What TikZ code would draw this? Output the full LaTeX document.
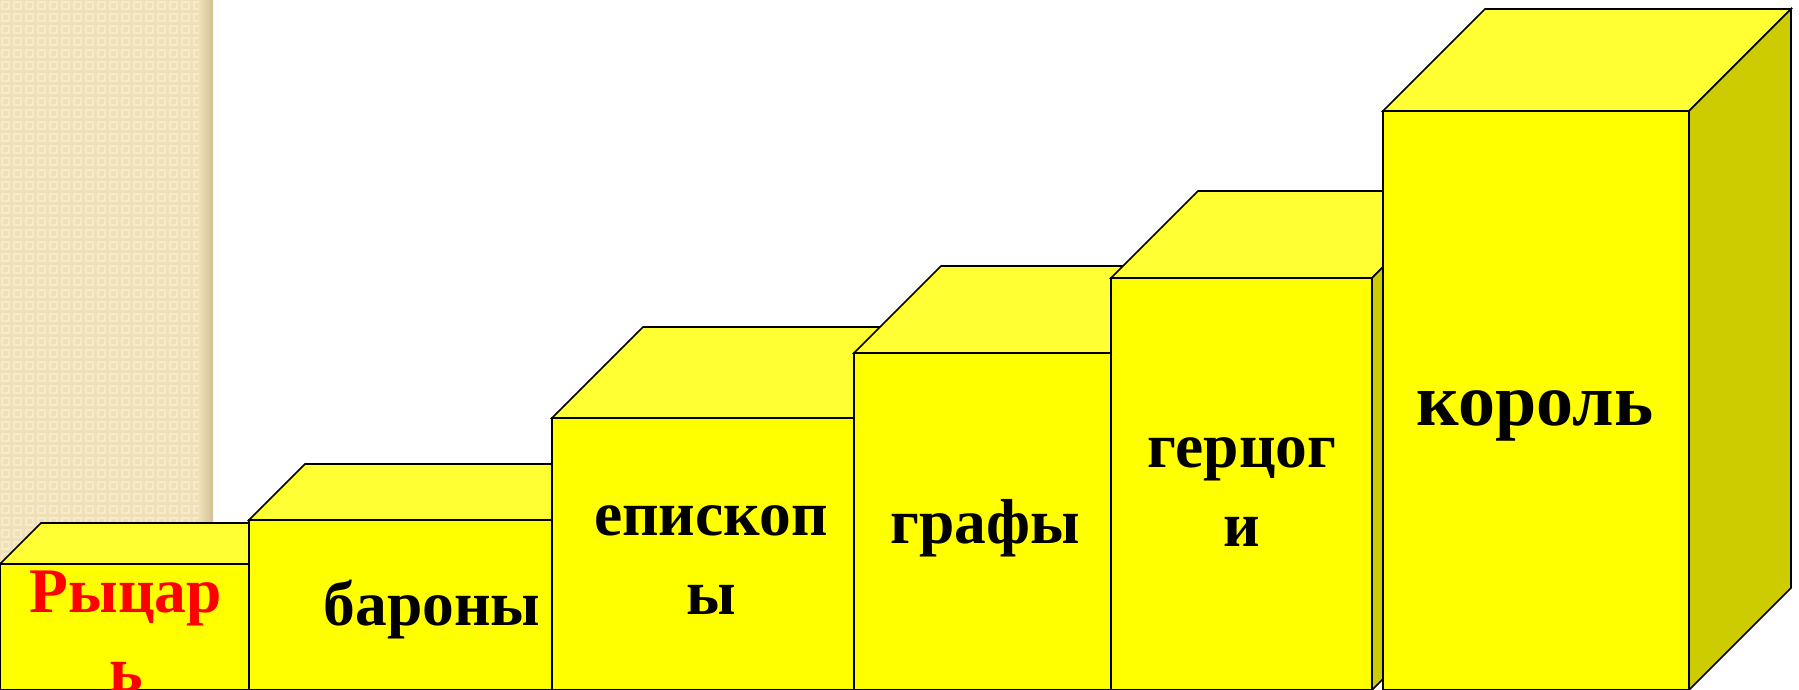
\documentclass[tikz,border=0pt]{standalone}
\usepackage{fontspec}
\setmainfont{Liberation Serif}
\usepackage{tikz}
\usetikzlibrary{positioning,calc}
\definecolor{cFront}{HTML}{FFFF00}
\definecolor{cTop}{HTML}{FFFF33}
\definecolor{cSide}{HTML}{CCCC00}
\definecolor{cPaper}{HTML}{EFE0B7}
\definecolor{cPaperL}{HTML}{F6EACA}
\definecolor{cPaperD}{HTML}{D2C195}
\definecolor{cKnight}{HTML}{FF0000}
\tikzset{
  face/.style={draw=black,line width=1.6pt,line join=miter},
  frontface/.style={face,fill=cFront},
  topface/.style={face,fill=cTop},
  sideface/.style={face,fill=cSide},
  rank/.style={font=\fontsize{63.5}{79}\selectfont\bfseries,align=center,anchor=base,inner sep=0pt},
}
\begin{document}
\begin{tikzpicture}[x=1pt,y=-1pt]
  \useasboundingbox (0,0) rectangle (1799,690);
  % textured strip at the left
  \fill[cPaper] (0,0) rectangle (213,690);
  \foreach \i in {0,...,16}
    \foreach \j in {0,...,57}
      \draw[cPaperL,line width=1.5pt] (\i*12+2,\j*12+2) rectangle ++(7,7);
  \shade[left color=cPaper,right color=cPaperD] (199,0) rectangle (213,690);
  % the steps, lowest first
  \foreach \xa/\xb/\yt/\dd in {0/249/564/41, 249/552/520/56, 552/854/418/91,
                               854/1111/353/87, 1111/1372/278/87, 1383/1689/111/102}{
    \draw[topface] (\xa,\yt) -- ++(\dd,-\dd) -- (\xb+\dd,\yt-\dd) -- (\xb,\yt) -- cycle;
    \draw[sideface] (\xb,\yt) -- ++(\dd,-\dd) -- (\xb+\dd,690-\dd) -- (\xb,690) -- cycle;
    \draw[frontface] (\xa,\yt) rectangle (\xb,690);
  }
  % base anchor of a two-line node sits on its last line
  \node[rank,text=cKnight] (knight) at (126,691) {Рыцар\\ь};
  \node[rank] (barons)  at (432,625) {бароны};
  \node[rank] (bishops) at (711,614) {епископ\\ы};
  \node[rank] (counts)  at (985,543) {графы};
  \node[rank] (dukes)   at (1242,546) {герцог\\и};
  \node[rank,font=\fontsize{74}{90}\selectfont\bfseries] (king) at (1535,425) {король};
\end{tikzpicture}
\end{document}
